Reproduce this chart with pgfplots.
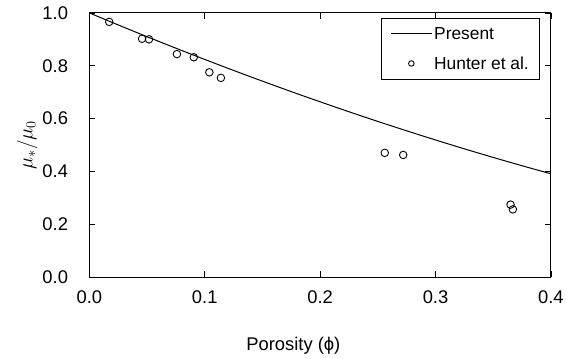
\documentclass[border=0pt]{standalone}
\usepackage{pgfplots}
\pgfplotsset{compat=1.18}
\usepackage{fontspec}
\setmainfont{Liberation Sans}
\begin{document}
\begin{tikzpicture}
\begin{axis}[
  name=ax,
  scale only axis,
  width=465pt, height=266pt,
  xmin=0, xmax=0.4, ymin=0, ymax=1.0,
  xtick={0,0.1,0.2,0.3,0.4},
  ytick={0,0.2,0.4,0.6,0.8,1.0},
  tick align=inside,
  major tick length=6pt,
  tick style={black, line width=0.5pt},
  axis line style={line width=0.9pt},
  xticklabel style={/pgf/number format/fixed, /pgf/number format/fixed zerofill, /pgf/number format/precision=1, font=\fontsize{18.5}{21}\selectfont},
  yticklabel style={/pgf/number format/fixed, /pgf/number format/fixed zerofill, /pgf/number format/precision=1, font=\fontsize{18.5}{21}\selectfont},
  /pgf/number format/assume math mode=true,
  xticklabel shift=10pt,
  yticklabel shift=18pt,
  xlabel={Porosity (ϕ)},
  xlabel style={font=\fontsize{18.5}{22}\selectfont, yshift=-27pt, xshift=-27pt},
  ylabel={$\mu_*/\mu_0$},
  ylabel style={font=\fontsize{20}{24}\selectfont, yshift=-2pt},
  legend style={at={(1,1)}, anchor=north east, xshift=-11pt, yshift=-5pt,
    draw=black, line width=0.6pt, font=\fontsize{17.5}{20}\selectfont,
    inner xsep=9pt, inner ysep=7pt, row sep=12pt},
  legend cell align=left,
]
\addplot[black, line width=1pt, smooth,
  legend image code/.code={\draw[black, line width=1pt] (0pt,0pt) -- (41pt,0pt);}]
coordinates {
(0.00,1.0000) (0.02,0.9635) (0.04,0.9276) (0.06,0.8924) (0.08,0.8578)
(0.10,0.8238) (0.12,0.7904) (0.14,0.7577) (0.16,0.7256) (0.18,0.6941)
(0.20,0.6633) (0.22,0.6331) (0.24,0.6035) (0.26,0.5746) (0.28,0.5464)
(0.30,0.5188) (0.32,0.4918) (0.34,0.4655) (0.36,0.4399) (0.38,0.4150)
(0.40,0.3907)
};
\addlegendentry{Present}
\addplot[only marks, mark=o, mark size=3.8pt, black, line width=0.9pt,
  legend image code/.code={\draw[black, line width=0.9pt] (20.5pt,0pt) circle (2.8pt);}]
coordinates {
(0.0172,0.966) (0.0457,0.902) (0.0517,0.900) (0.0759,0.844) (0.0905,0.832)
(0.104,0.775) (0.114,0.754) (0.256,0.470) (0.272,0.462) (0.365,0.274) (0.367,0.256)
};
\addlegendentry{Hunter et al.}
\end{axis}
\path (ax.south west) ++(-90pt,-82pt) coordinate (bl);
\path (ax.north east) ++(12pt,13pt) coordinate (tr);
\end{tikzpicture}
\end{document}
